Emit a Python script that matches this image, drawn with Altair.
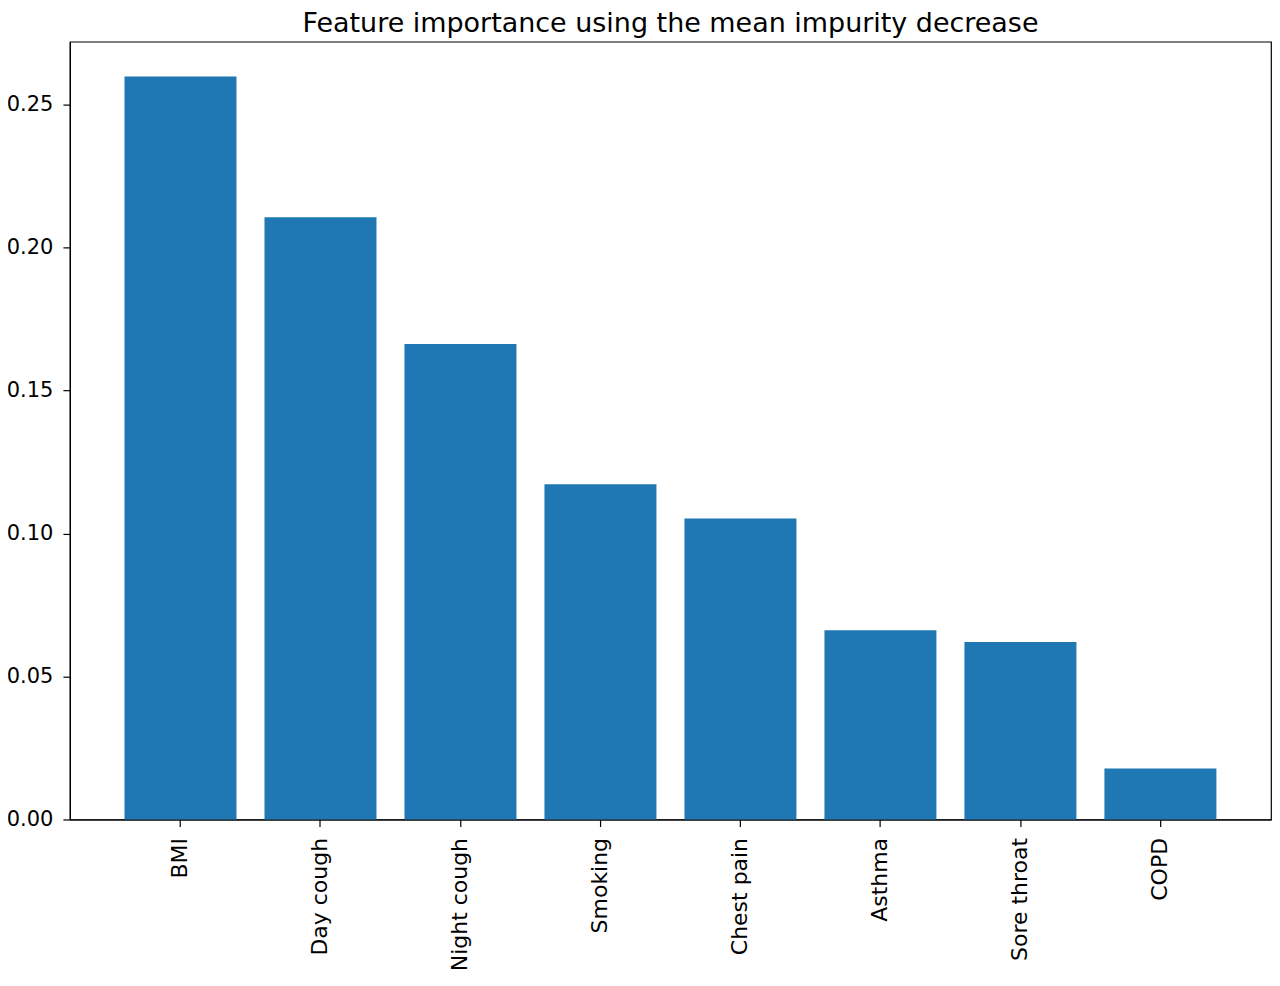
import altair as alt
import pandas as pd

features = ["BMI", "Day cough", "Night cough", "Smoking", "Chest pain",
            "Asthma", "Sore throat", "COPD"]
importance = [0.2598, 0.2106, 0.1663, 0.1172, 0.1053, 0.0662, 0.0621, 0.0178]
y_ticks = [0.0, 0.05, 0.10, 0.15, 0.20, 0.25]

df = pd.DataFrame({"feature": features, "importance": importance})

chart = alt.Chart(df).mark_bar(color="#1f77b4").encode(
    x=alt.X("feature:N", sort=features, title=None,
            scale=alt.Scale(paddingInner=0.2, paddingOuter=0.39),
            axis=alt.Axis(labelAngle=270, labelFontSize=22, tickSize=7,
                          labelPadding=11, labelBaseline="middle", labelAlign="right")),
    y=alt.Y("importance:Q", title=None,
            scale=alt.Scale(domain=[0, 0.272], nice=False),
            axis=alt.Axis(values=y_ticks, format=".2f", labelFontSize=21,
                          tickSize=7, labelPadding=10)),
).properties(
    width=1203,
    height=779,
    title=alt.Title("Feature importance using the mean impurity decrease",
                    fontSize=27, fontWeight="normal", offset=4),
    autosize=alt.AutoSizeParams(type="none"),
    padding={"left": 62, "top": 33, "right": 1, "bottom": 157},
).configure_view(
    stroke="black", strokeWidth=1.2
).configure_axis(
    grid=False, domainColor="black", tickColor="black", labelColor="black",
    labelFont="DejaVu Sans", domainWidth=1.2, tickWidth=1.2
).configure_title(
    font="DejaVu Sans", color="black"
)

chart.save("out.html", embed_options={"renderer": "svg", "actions": False})
